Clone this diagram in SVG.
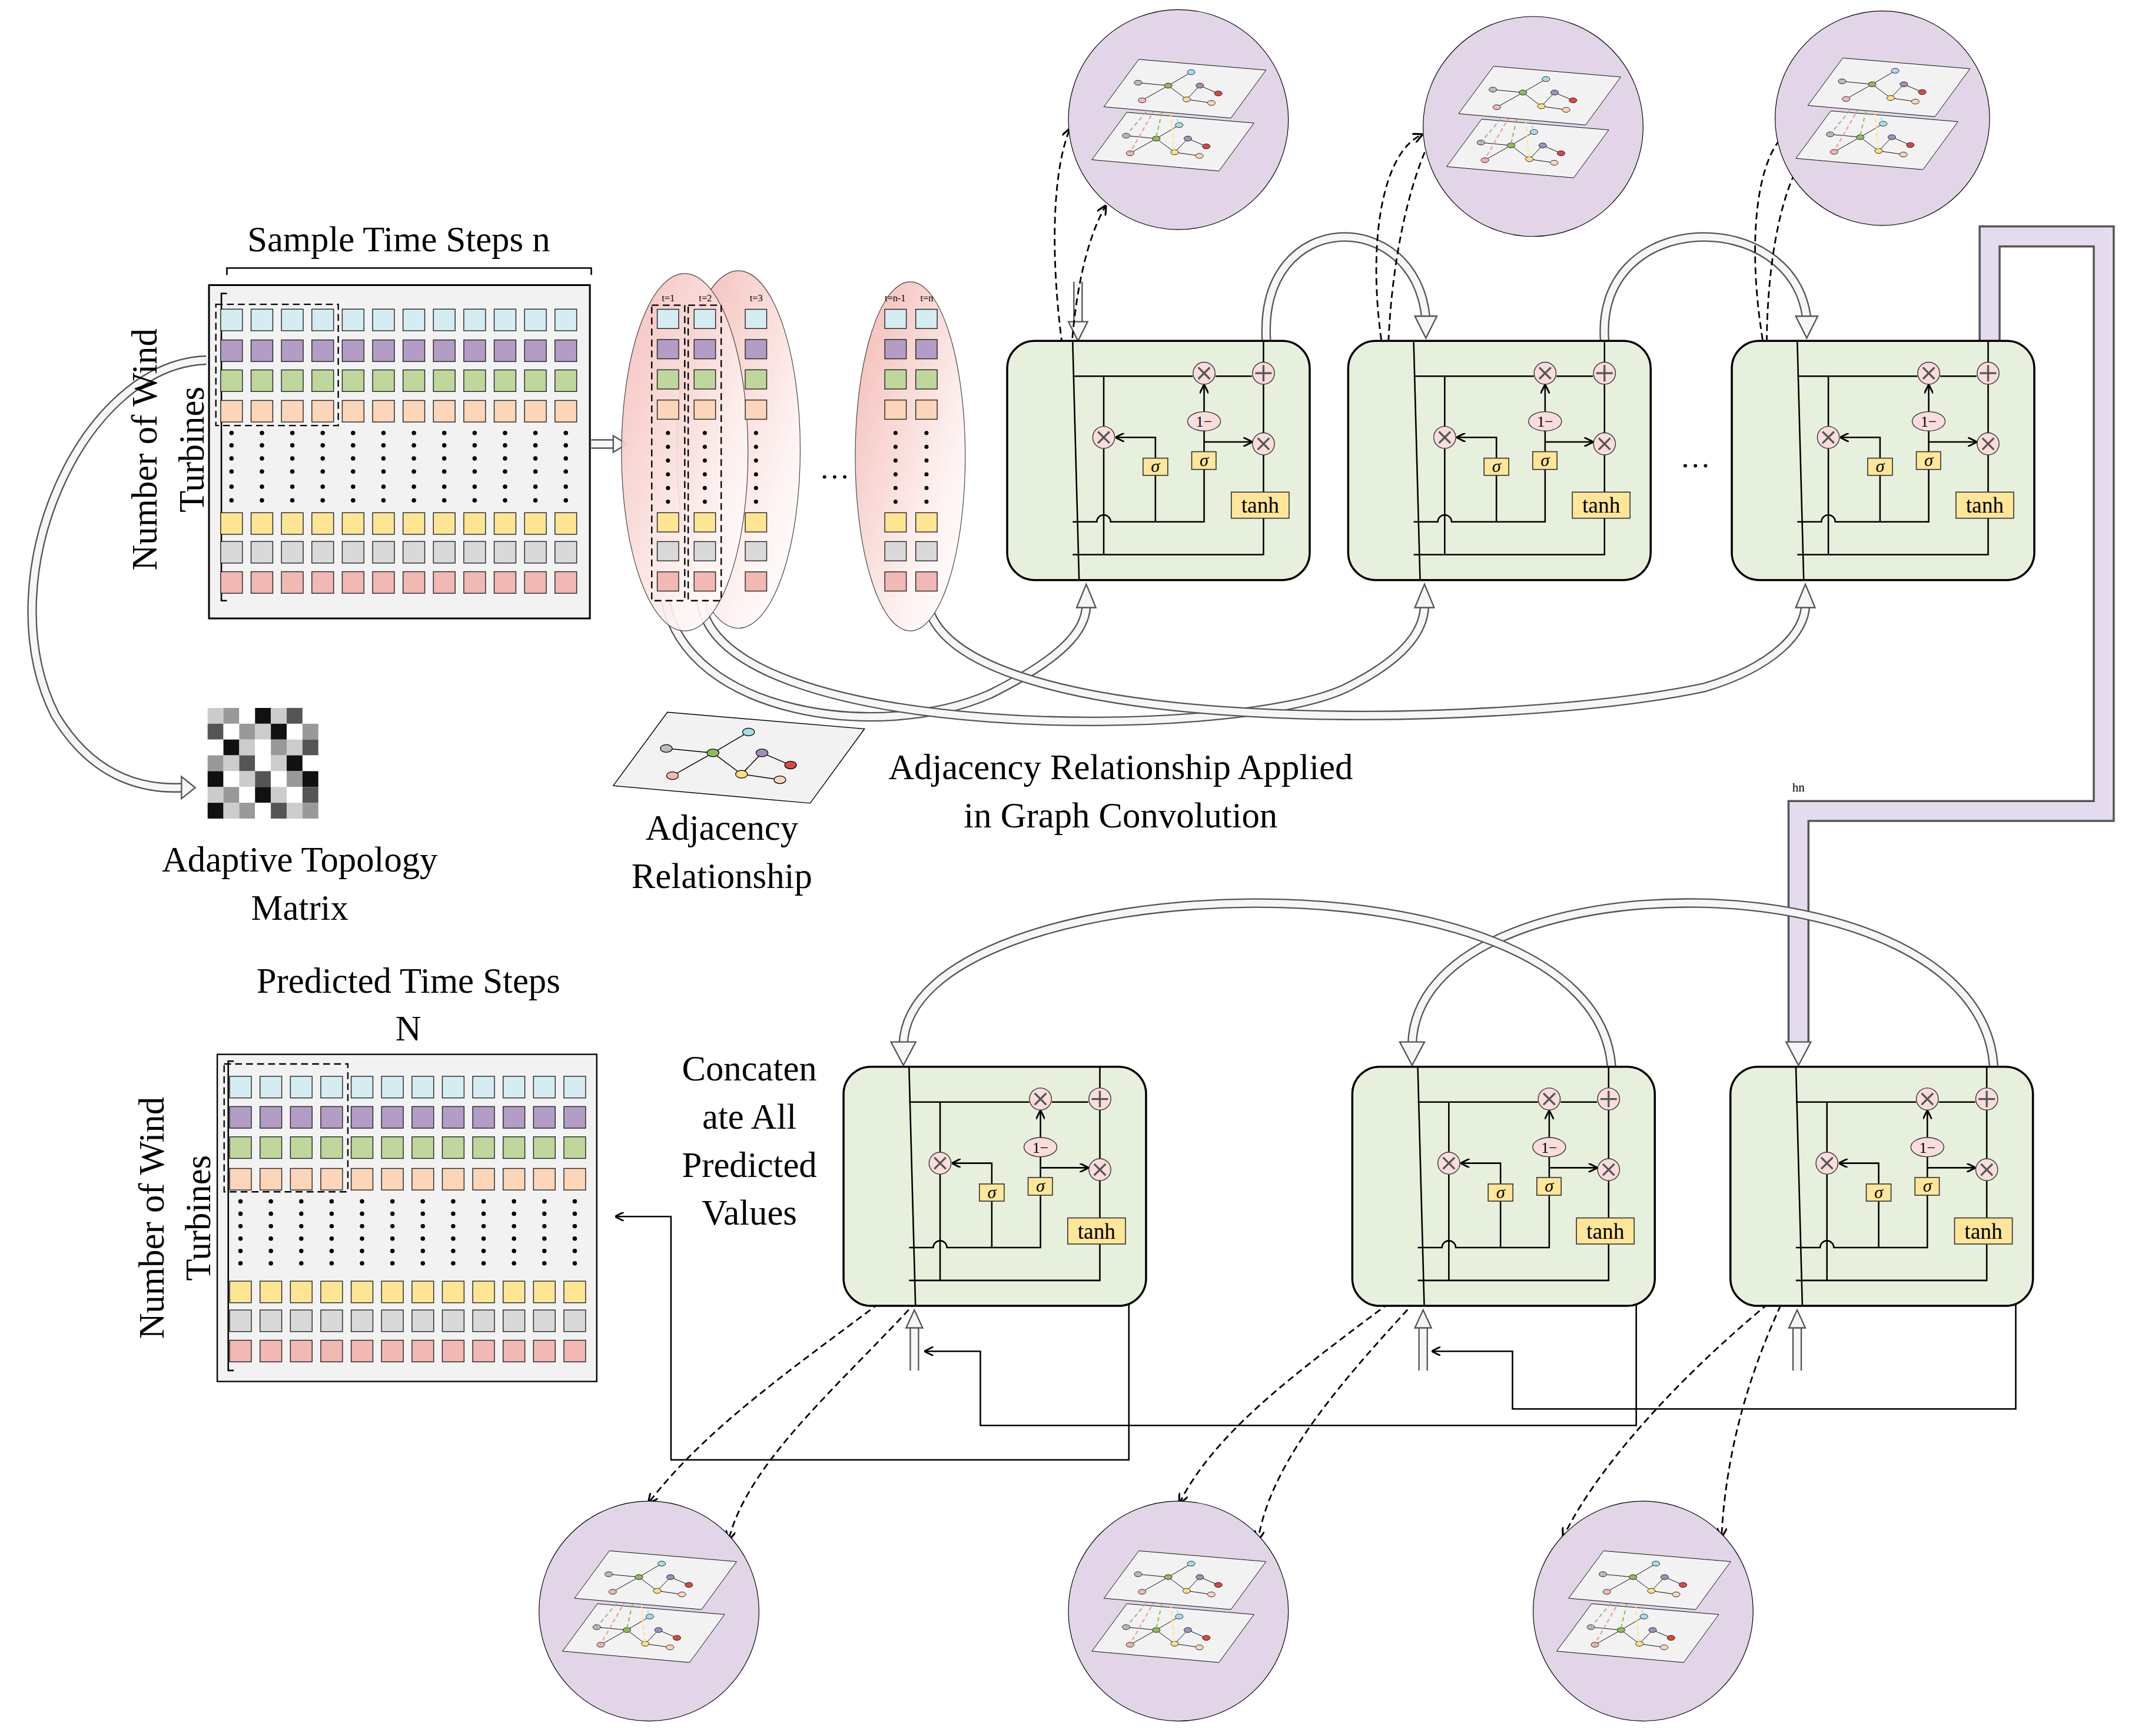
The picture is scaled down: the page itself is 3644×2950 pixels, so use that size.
<svg xmlns="http://www.w3.org/2000/svg" xmlns:xlink="http://www.w3.org/1999/xlink" width="3644" height="2950" viewBox="0 0 3644 2950">
<style>
.t{font-family:"Liberation Serif","Times New Roman",serif;fill:#000;text-anchor:middle}
.ln{fill:none;stroke:#000;stroke-width:1.1}
.ho{fill:none;stroke:#555;stroke-width:7}
.hi{fill:none;stroke:#f6f6f9;stroke-width:5}
.hh{fill:#f6f6f9;stroke:#555;stroke-width:1}
.dash{fill:none;stroke:#000;stroke-width:1.2;stroke-dasharray:5 3}
.op{fill:#f9dcdc;stroke:#333;stroke-width:.6}
.ox{stroke:#555;stroke-width:1.4}
.sg{fill:#ffe699;stroke:#333;stroke-width:.7}
.cell{stroke:#222;stroke-width:.6}
</style>
<defs>
<marker id="ar" viewBox="0 0 8 8" refX="7" refY="4" markerWidth="6" markerHeight="6" orient="auto"><path d="M0,0 L8,4 L0,8" fill="none" stroke="#000" stroke-width="1.5"/></marker>
<linearGradient id="pk" x1="0" y1="0" x2="1" y2="1"><stop offset="0" stop-color="#f3b9b4"/><stop offset="0.7" stop-color="#fdf3f2"/><stop offset="1" stop-color="#fff"/></linearGradient>
<g id="row"><rect x="0" width="15.8" height="15.7" class="cell"/><rect x="22.1" width="15.8" height="15.7" class="cell"/><rect x="44.2" width="15.8" height="15.7" class="cell"/><rect x="66.3" width="15.8" height="15.7" class="cell"/><rect x="88.4" width="15.8" height="15.7" class="cell"/><rect x="110.5" width="15.8" height="15.7" class="cell"/><rect x="132.6" width="15.8" height="15.7" class="cell"/><rect x="154.7" width="15.8" height="15.7" class="cell"/><rect x="176.8" width="15.8" height="15.7" class="cell"/><rect x="198.9" width="15.8" height="15.7" class="cell"/><rect x="221" width="15.8" height="15.7" class="cell"/><rect x="243.1" width="15.8" height="15.7" class="cell"/></g>
<g id="dots"><circle cx="7.9" r="1.6"/><circle cx="30" r="1.6"/><circle cx="52.1" r="1.6"/><circle cx="74.2" r="1.6"/><circle cx="96.3" r="1.6"/><circle cx="118.4" r="1.6"/><circle cx="140.5" r="1.6"/><circle cx="162.6" r="1.6"/><circle cx="184.7" r="1.6"/><circle cx="206.8" r="1.6"/><circle cx="228.9" r="1.6"/><circle cx="251" r="1.6"/></g>
<g id="col">
<rect y="0" width="15.6" height="14" fill="#d5edf2" class="cell"/><rect y="22" width="15.6" height="14" fill="#b39dc6" class="cell"/><rect y="44" width="15.6" height="14" fill="#bfd69c" class="cell"/><rect y="66" width="15.6" height="14" fill="#fdd5b8" class="cell"/>
<g fill="#000"><circle cx="7.8" cy="90" r="1.5"/><circle cx="7.8" cy="100" r="1.5"/><circle cx="7.8" cy="110" r="1.5"/><circle cx="7.8" cy="120" r="1.5"/><circle cx="7.8" cy="130" r="1.5"/><circle cx="7.8" cy="140" r="1.5"/></g>
<rect y="148" width="15.6" height="14" fill="#fee594" class="cell"/><rect y="169" width="15.6" height="14" fill="#d9d9d9" class="cell"/><rect y="191" width="15.6" height="14" fill="#f2b8b3" class="cell"/>
</g>
<g id="plane">
<polygon points="-28.8,-43.8 63.7,-36 38.2,-1.1 -54.2,-9.3" fill="#f2f2f2" stroke="#000" stroke-width="0.4"/>
<path d="M-7.4,-24.7 L9.3,-34.5 M-7.4,-24.7 L-29.3,-26.8 M-7.4,-24.7 L-26.4,-14 M-7.4,-24.7 L6,-14.7 L15.6,-24.7 L29,-19 M6,-14.7 L24,-12.1" stroke="#000" stroke-width="0.4" fill="none"/>
<g stroke="#000" stroke-width="0.35"><ellipse cx="-7.4" cy="-24.7" rx="2.8" ry="1.8" fill="#8fbc5a"/><ellipse cx="9.3" cy="-34.5" rx="2.8" ry="1.8" fill="#a6dde8"/><ellipse cx="-29.3" cy="-26.8" rx="2.8" ry="1.8" fill="#bbb"/><ellipse cx="15.6" cy="-24.7" rx="2.8" ry="1.8" fill="#a58fba"/><ellipse cx="29" cy="-19" rx="2.8" ry="1.8" fill="#d9493f"/><ellipse cx="-26.4" cy="-14" rx="2.8" ry="1.8" fill="#f2b8b3"/><ellipse cx="6" cy="-14.7" rx="2.8" ry="1.8" fill="#ffe083"/><ellipse cx="24" cy="-12.1" rx="2.8" ry="1.8" fill="#fdd5b8"/></g>
</g>
<g id="graph">
<use href="#plane" transform="translate(-8.7,38.5)"/>
<g stroke-width="0.9" stroke-dasharray="3 2" fill="none"><path d="M-7.4,-24.7 L-38.2,11.8" stroke="#aaa"/><path d="M-7.4,-24.7 L-35.4,24.5" stroke="#ef9a93"/><path d="M-7.4,-24.7 L-16.4,13.8" stroke="#8fbc5a"/><path d="M-7.4,-24.7 L-2.9,23.8" stroke="#ffe083"/><path d="M-7.4,-24.7 L0.3,4" stroke="#a6dde8"/></g>
<use href="#plane"/>
</g>
<g id="gru">
<rect x="0" y="0" width="220" height="174" rx="20" fill="#e7f0dc" stroke="#000" stroke-width="1.5"/>
<path class="ln" d="M47.6,0 L52.3,174 M47.6,25.7 H135 M151.5,25.7 H178 M70.2,25.7 V62 M70.2,78.5 V155.5 M107.8,97.8 V131.6 M143.2,80.6 V65.6 M143.2,93.5 V131.6 H75.2 A5,5 0 0 0 65.2,131.6 H47.6 M47.6,155.5 H186.4 V129.1 M186.4,109.9 V83 M186.4,66.7 V31.7 M186.4,15.3 V0"/>
<path class="ln" d="M107.8,85.3 V70.2 H79.5" marker-end="url(#ar)"/>
<path class="ln" d="M143.2,51.4 V32.5" marker-end="url(#ar)"/>
<path class="ln" d="M143.2,73.5 H177.5" marker-end="url(#ar)"/>
<circle class="op" cx="143.2" cy="23.5" r="8"/><path class="ox" d="M139,19.3 L147.4,27.7 M147.4,19.3 L139,27.7"/>
<circle class="op" cx="70.2" cy="70.2" r="8"/><path class="ox" d="M66,66 L74.4,74.4 M74.4,66 L66,74.4"/>
<circle class="op" cx="186.4" cy="74.9" r="8"/><path class="ox" d="M182.2,70.7 L190.6,79.1 M190.6,70.7 L182.2,79.1"/>
<circle class="op" cx="186.4" cy="23.5" r="8"/><path class="ox" d="M186.4,17.5 V29.5 M180.4,23.5 H192.4"/>
<ellipse class="op" cx="143.2" cy="58.5" rx="12" ry="7"/><text class="t" x="143.2" y="62.5" font-size="11">1−</text>
<rect class="sg" x="98.8" y="85.3" width="18" height="12.5"/><text class="t" x="107.8" y="95.5" font-size="13" font-style="italic">σ</text>
<rect class="sg" x="134.2" y="80.6" width="17.7" height="12.9"/><text class="t" x="143.2" y="91" font-size="13" font-style="italic">σ</text>
<rect class="sg" x="163" y="110" width="42" height="19"/><text class="t" x="184" y="125" font-size="16">tanh</text>
</g>
</defs>
<rect width="3644" height="2950" fill="#fff"/>
<g transform="scale(2.3359)">

<g id="connectors">
<path class="ho" d="M150,262 C60,265 -10,420 40,520 C70,570 110,574 132,573"/>
<path class="hi" d="M150,262 C60,265 -10,420 40,520 C70,570 110,574 132,573"/>
<polygon class="hh" points="132,565 142,573 132,581"/>
<path class="ho" d="M430,323 H447"/><path class="hi" d="M430,323 H447"/><polygon class="hh" points="446,317 456,323 446,329"/>
<path class="ho" d="M484,437 C500,520 640,540 720,505 C770,480 790,460 790,440"/><path class="hi" d="M484,437 C500,520 640,540 720,505 C770,480 790,460 790,440"/><polygon class="hh" points="783,442 790,425 797,442"/>
<path class="ho" d="M510,437 C520,540 900,540 980,500 C1020,480 1036,460 1036,440"/><path class="hi" d="M510,437 C520,540 900,540 980,500 C1020,480 1036,460 1036,440"/><polygon class="hh" points="1029,442 1036,425 1043,442"/>
<path class="ho" d="M674,437 C690,540 1100,530 1240,500 C1290,485 1313,460 1313,440"/><path class="hi" d="M674,437 C690,540 1100,530 1240,500 C1290,485 1313,460 1313,440"/><polygon class="hh" points="1306,442 1313,425 1320,442"/>
<path class="ho" d="M784,205 V235"/><path class="hi" d="M784,205 V235"/><polygon class="hh" points="777,234 784,248 791,234"/>
<path class="ho" d="M921,248 C915,150 1030,150 1037,232"/><path class="hi" d="M921,248 C915,150 1030,150 1037,232"/><polygon class="hh" points="1029,230 1037,246 1045,230"/>
<path class="ho" d="M1167,248 C1160,150 1305,150 1314,232"/><path class="hi" d="M1167,248 C1160,150 1305,150 1314,232"/><polygon class="hh" points="1306,230 1314,246 1322,230"/>
<path d="M1447,248 V172 H1530 V590 H1308 V760" fill="none" stroke="#555" stroke-width="16"/>
<path d="M1447,248 V172 H1530 V590 H1308 V760" fill="none" stroke="#e4dbee" stroke-width="13"/>
<polygon class="hh" points="1299,758 1308,775 1317,758"/>
<path class="ho" d="M1450,776 C1440,620 1030,620 1027,760"/><path class="hi" d="M1450,776 C1440,620 1030,620 1027,760"/><polygon class="hh" points="1018,758 1027,775 1036,758"/>
<path class="ho" d="M1172,776 C1160,610 660,630 657,760"/><path class="hi" d="M1172,776 C1160,610 660,630 657,760"/><polygon class="hh" points="648,758 657,775 666,758"/>
<path class="ho" d="M665,997 V965"/><path class="hi" d="M665,997 V965"/><polygon class="hh" points="659,966 665,953 671,966"/>
<path class="ho" d="M1035,997 V965"/><path class="hi" d="M1035,997 V965"/><polygon class="hh" points="1029,966 1035,953 1041,966"/>
<path class="ho" d="M1307,997 V965"/><path class="hi" d="M1307,997 V965"/><polygon class="hh" points="1301,966 1307,953 1313,966"/>
<path class="ln" d="M1466,800 V1025 H1100 V983 H1042" marker-end="url(#ar)"/>
<path class="ln" d="M1190,800 V1037 H713 V983 H673" marker-end="url(#ar)"/>
<path class="ln" d="M821,800 V1062 H488 V885 H448" marker-end="url(#ar)"/>
<path class="dash" d="M806,382 C770,300 755,150 778,94" marker-end="url(#ar)"/>
<path class="dash" d="M790,405 C770,320 775,200 804,150" marker-end="url(#ar)"/>
<path class="dash" d="M1052,382 C990,290 985,120 1034,98" marker-end="url(#ar)"/>
<path class="dash" d="M1035,405 C990,320 1010,140 1050,85" marker-end="url(#ar)"/>
<path class="dash" d="M1330,382 C1270,290 1260,120 1302,95" marker-end="url(#ar)"/>
<path class="dash" d="M1313,405 C1270,320 1280,140 1318,108" marker-end="url(#ar)"/>
<path class="dash" d="M684,914 C600,980 520,1030 472,1093" marker-end="url(#ar)"/>
<path class="dash" d="M677,935 C620,1000 545,1060 530,1120" marker-end="url(#ar)"/>
<path class="dash" d="M1055,914 C970,980 890,1030 858,1093" marker-end="url(#ar)"/>
<path class="dash" d="M1040,935 C980,1000 925,1060 915,1120" marker-end="url(#ar)"/>
<path class="dash" d="M1330,914 C1240,980 1165,1060 1137,1118" marker-end="url(#ar)"/>
<path class="dash" d="M1302,935 C1270,1000 1255,1060 1252,1118" marker-end="url(#ar)"/>
</g>

<g id="matrix-input">
<text class="t" x="290" y="183" font-size="26">Sample Time Steps n</text>
<path class="ln" d="M165,200 V195 H430 V200" stroke-width="0.6"/>
<rect x="152" y="207.4" width="277" height="242.5" fill="#f2f2f2" stroke="#000" stroke-width="1.3"/>
<path class="ln" d="M165,213.5 H161 V437 H165" stroke-width="0.6"/>
<use href="#row" x="160.5" y="224.9" fill="#d5edf2"/>
<use href="#row" x="160.5" y="247.3" fill="#b39dc6"/>
<use href="#row" x="160.5" y="269.1" fill="#bfd69c"/>
<use href="#row" x="160.5" y="291.3" fill="#fdd5b8"/>
<use href="#dots" x="160.5" y="315"/><use href="#dots" x="160.5" y="324"/><use href="#dots" x="160.5" y="333.5"/><use href="#dots" x="160.5" y="343"/><use href="#dots" x="160.5" y="354"/><use href="#dots" x="160.5" y="364"/>
<use href="#row" x="160.5" y="373" fill="#fee594"/>
<use href="#row" x="160.5" y="393.9" fill="#d9d9d9"/>
<use href="#row" x="160.5" y="415.9" fill="#f2b8b3"/>
<rect x="157" y="221.4" width="89" height="88.2" fill="none" stroke="#000" stroke-dasharray="5 3"/>
<text class="t" font-size="26" transform="translate(114,327) rotate(-90)">Number of Wind</text>
<text class="t" font-size="26" transform="translate(148,327) rotate(-90)">Turbines</text>
</g>

<g id="time-slices">
<ellipse cx="537" cy="327" rx="45" ry="130" fill="url(#pk)" stroke="#444" stroke-width="0.5"/>
<ellipse cx="498" cy="329" rx="46" ry="130" fill="url(#pk)" stroke="#444" stroke-width="0.5" fill-opacity="0.9"/>
<use href="#col" x="478" y="225"/><use href="#col" x="504.8" y="225"/><use href="#col" x="542" y="225"/>
<rect x="474" y="222" width="24" height="215" fill="none" stroke="#000" stroke-dasharray="5 3"/>
<rect x="500.5" y="222" width="24" height="215" fill="none" stroke="#000" stroke-dasharray="5 3"/>
<text class="t" x="486" y="219" font-size="7">t=1</text><text class="t" x="513" y="219" font-size="7">t=2</text><text class="t" x="550" y="219" font-size="7">t=3</text>
<text class="t" x="607" y="348" font-size="22">…</text>
<ellipse cx="662" cy="332" rx="40" ry="127" fill="url(#pk)" stroke="#444" stroke-width="0.5"/>
<use href="#col" x="643.5" y="225"/><use href="#col" x="666" y="225"/>
<text class="t" x="651" y="219" font-size="7">t=n-1</text><text class="t" x="674" y="219" font-size="7">t=n</text>
</g>

<g id="topology-matrix">
<rect x="151" y="515" width="11.5" height="11.5" fill="#ccc"/><rect x="162.5" y="515" width="11.5" height="11.5" fill="#999"/><rect x="174" y="515" width="11.5" height="11.5" fill="#fff"/><rect x="185.5" y="515" width="11.5" height="11.5" fill="#111"/><rect x="197" y="515" width="11.5" height="11.5" fill="#ccc"/><rect x="208.5" y="515" width="11.5" height="11.5" fill="#555"/><rect x="220" y="515" width="11.5" height="11.5" fill="#fff"/>
<rect x="151" y="526.5" width="11.5" height="11.5" fill="#555"/><rect x="162.5" y="526.5" width="11.5" height="11.5" fill="#fff"/><rect x="174" y="526.5" width="11.5" height="11.5" fill="#999"/><rect x="185.5" y="526.5" width="11.5" height="11.5" fill="#ccc"/><rect x="197" y="526.5" width="11.5" height="11.5" fill="#111"/><rect x="208.5" y="526.5" width="11.5" height="11.5" fill="#fff"/><rect x="220" y="526.5" width="11.5" height="11.5" fill="#999"/>
<rect x="151" y="538" width="11.5" height="11.5" fill="#fff"/><rect x="162.5" y="538" width="11.5" height="11.5" fill="#111"/><rect x="174" y="538" width="11.5" height="11.5" fill="#ccc"/><rect x="185.5" y="538" width="11.5" height="11.5" fill="#fff"/><rect x="197" y="538" width="11.5" height="11.5" fill="#999"/><rect x="208.5" y="538" width="11.5" height="11.5" fill="#ccc"/><rect x="220" y="538" width="11.5" height="11.5" fill="#555"/>
<rect x="151" y="549.5" width="11.5" height="11.5" fill="#999"/><rect x="162.5" y="549.5" width="11.5" height="11.5" fill="#ccc"/><rect x="174" y="549.5" width="11.5" height="11.5" fill="#555"/><rect x="185.5" y="549.5" width="11.5" height="11.5" fill="#fff"/><rect x="197" y="549.5" width="11.5" height="11.5" fill="#ccc"/><rect x="208.5" y="549.5" width="11.5" height="11.5" fill="#111"/><rect x="220" y="549.5" width="11.5" height="11.5" fill="#fff"/>
<rect x="151" y="561" width="11.5" height="11.5" fill="#111"/><rect x="162.5" y="561" width="11.5" height="11.5" fill="#fff"/><rect x="174" y="561" width="11.5" height="11.5" fill="#ccc"/><rect x="185.5" y="561" width="11.5" height="11.5" fill="#555"/><rect x="197" y="561" width="11.5" height="11.5" fill="#fff"/><rect x="208.5" y="561" width="11.5" height="11.5" fill="#999"/><rect x="220" y="561" width="11.5" height="11.5" fill="#111"/>
<rect x="151" y="572.5" width="11.5" height="11.5" fill="#ccc"/><rect x="162.5" y="572.5" width="11.5" height="11.5" fill="#999"/><rect x="174" y="572.5" width="11.5" height="11.5" fill="#fff"/><rect x="185.5" y="572.5" width="11.5" height="11.5" fill="#111"/><rect x="197" y="572.5" width="11.5" height="11.5" fill="#ccc"/><rect x="208.5" y="572.5" width="11.5" height="11.5" fill="#fff"/><rect x="220" y="572.5" width="11.5" height="11.5" fill="#555"/>
<rect x="151" y="584" width="11.5" height="11.5" fill="#111"/><rect x="162.5" y="584" width="11.5" height="11.5" fill="#ccc"/><rect x="174" y="584" width="11.5" height="11.5" fill="#999"/><rect x="185.5" y="584" width="11.5" height="11.5" fill="#fff"/><rect x="197" y="584" width="11.5" height="11.5" fill="#555"/><rect x="208.5" y="584" width="11.5" height="11.5" fill="#ccc"/><rect x="220" y="584" width="11.5" height="11.5" fill="#999"/>
<text class="t" x="218" y="634" font-size="26">Adaptive Topology</text>
<text class="t" x="218" y="669" font-size="26">Matrix</text>
</g>

<g id="adjacency">
<use href="#plane" transform="translate(530,586) scale(1.55)"/>
<text class="t" x="525" y="611" font-size="26">Adjacency</text>
<text class="t" x="525" y="646" font-size="26">Relationship</text>
<text class="t" x="815" y="567" font-size="26">Adjacency Relationship Applied</text>
<text class="t" x="815" y="602" font-size="26">in Graph Convolution</text>
</g>

<g id="gru-enc-1"><use href="#gru" x="732.5" y="248"/></g>
<g id="gru-enc-2"><use href="#gru" x="980.5" y="248"/></g>
<text class="t" x="1233" y="340" font-size="22">…</text>
<g id="gru-enc-3"><use href="#gru" x="1259.5" y="248"/></g>
<g id="gru-dec-1"><use href="#gru" x="613.5" y="776"/></g>
<g id="gru-dec-2"><use href="#gru" x="983.5" y="776"/></g>
<g id="gru-dec-3"><use href="#gru" x="1258.5" y="776"/></g>
<text class="t" x="1308" y="576" font-size="9">hn</text>

<g id="graph-top-1"><circle cx="857" cy="87" r="80" fill="#e1d5e7" stroke="#000" stroke-width="0.5"/><use href="#graph" transform="translate(857,87)"/></g>
<g id="graph-top-2"><circle cx="1115" cy="92" r="80" fill="#e1d5e7" stroke="#000" stroke-width="0.5"/><use href="#graph" transform="translate(1115,92)"/></g>
<g id="graph-top-3"><circle cx="1369" cy="86" r="78" fill="#e1d5e7" stroke="#000" stroke-width="0.5"/><use href="#graph" transform="translate(1369,86)"/></g>
<g id="graph-bot-1"><circle cx="472" cy="1172" r="80" fill="#e1d5e7" stroke="#000" stroke-width="0.5"/><use href="#graph" transform="translate(472,1172)"/></g>
<g id="graph-bot-2"><circle cx="857" cy="1172" r="80" fill="#e1d5e7" stroke="#000" stroke-width="0.5"/><use href="#graph" transform="translate(857,1172)"/></g>
<g id="graph-bot-3"><circle cx="1195" cy="1172" r="80" fill="#e1d5e7" stroke="#000" stroke-width="0.5"/><use href="#graph" transform="translate(1195,1172)"/></g>

<g id="concat-label">
<text class="t" x="545" y="786" font-size="26">Concaten</text>
<text class="t" x="545" y="821" font-size="26">ate All</text>
<text class="t" x="545" y="856" font-size="26">Predicted</text>
<text class="t" x="545" y="891" font-size="26">Values</text>
</g>

<g id="matrix-output">
<text class="t" x="297" y="722" font-size="26">Predicted Time Steps</text>
<text class="t" x="297" y="757" font-size="26">N</text>
<rect x="158" y="767" width="276" height="238" fill="#f2f2f2" stroke="#000" stroke-width="1"/>
<path class="ln" d="M170,772 H166 V997 H170" stroke-width="0.6"/>
<use href="#row" x="167" y="783" fill="#d5edf2"/>
<use href="#row" x="167" y="805" fill="#b39dc6"/>
<use href="#row" x="167" y="827" fill="#bfd69c"/>
<use href="#row" x="167" y="850" fill="#fdd5b8"/>
<use href="#dots" x="167" y="874"/><use href="#dots" x="167" y="883"/><use href="#dots" x="167" y="892"/><use href="#dots" x="167" y="901"/><use href="#dots" x="167" y="910"/><use href="#dots" x="167" y="919"/>
<use href="#row" x="167" y="932" fill="#fee594"/>
<use href="#row" x="167" y="953" fill="#d9d9d9"/>
<use href="#row" x="167" y="975" fill="#f2b8b3"/>
<rect x="163" y="774" width="90" height="93" fill="none" stroke="#000" stroke-dasharray="5 3"/>
<text class="t" font-size="26" transform="translate(119,886) rotate(-90)">Number of Wind</text>
<text class="t" font-size="26" transform="translate(153,886) rotate(-90)">Turbines</text>
</g>
</g>
</svg>
